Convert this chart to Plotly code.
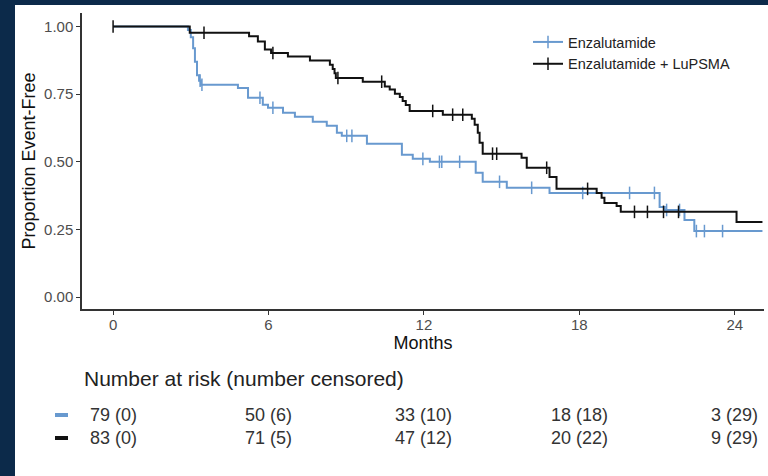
import plotly.graph_objects as go
import numpy as np

# ---- Kaplan-Meier step data (months, proportion event-free) ----
enz_time = [0, 2.89, 3.0, 3.09, 3.16, 3.24, 3.32, 3.39, 4.82, 5.21, 5.78, 5.98, 6.56, 7.02,
            7.71, 8.25, 8.64, 8.83, 9.8, 11.15, 11.57, 12.23, 14.0, 14.27, 15.2, 16.85,
            21.1, 21.3, 22.06, 22.44, 25.07]
enz_surv = [1.0, 0.987, 0.96, 0.92, 0.87, 0.82, 0.80, 0.785, 0.773, 0.737, 0.711, 0.70, 0.681,
            0.667, 0.648, 0.633, 0.607, 0.596, 0.567, 0.526, 0.511, 0.50, 0.46, 0.426, 0.404,
            0.385, 0.333, 0.322, 0.285, 0.244, 0.244]
enz_censor = [3.36, 3.43, 5.67, 6.17, 9.02, 9.22, 11.96, 12.6, 12.69, 13.38, 14.92, 16.16,
              18.13, 19.94, 20.9, 21.37, 21.87, 22.52, 22.83, 23.53]

combo_time = [0, 2.96, 5.25, 5.59, 5.86, 6.1, 6.75, 7.6, 8.37, 8.48, 8.55, 8.6, 9.64, 10.49,
              10.68, 10.88, 11.07, 11.18, 11.3, 11.45, 12.73, 13.85, 13.96, 14.08, 14.15,
              14.27, 15.77, 15.97, 16.85, 17.12, 18.67, 18.86, 18.97, 19.44, 19.6, 24.07, 25.07]
combo_surv = [1.0, 0.977, 0.964, 0.945, 0.915, 0.902, 0.889, 0.874, 0.859, 0.843, 0.827, 0.81,
              0.796, 0.778, 0.767, 0.752, 0.74, 0.725, 0.71, 0.688, 0.674, 0.659, 0.637, 0.607,
              0.57, 0.53, 0.515, 0.478, 0.444, 0.40, 0.385, 0.367, 0.348, 0.337, 0.315, 0.278,
              0.278]
combo_censor = [0, 3.51, 6.17, 8.68, 10.37, 12.34, 13.11, 13.5, 14.65, 14.81, 16.74, 18.32,
                20.13, 20.63, 21.25, 21.83]

# ---- Number at risk table ----
risk_months = [0, 6, 12, 18, 24]
enz_at_risk = [79, 50, 33, 18, 3]
enz_censored = [0, 6, 10, 18, 29]
combo_at_risk = [83, 71, 47, 20, 9]
combo_censored = [0, 5, 12, 22, 29]

arm_names = ["Enzalutamide", "Enzalutamide + LuPSMA"]
BLUE = "#6899cf"
BLACK = "#111111"
NAVY = "#0c2a4a"
FONT = "Liberation Sans, Arial, sans-serif"

W, H = 768, 476
ML, MR, MT, MB = 82, 4, 13, 167
PW, PH = W - ML - MR, H - MT - MB


def px_x(p):
    return (p - ML) / PW


def px_y(p):
    return (H - MB - p) / PH


def surv_at(times, surv, t):
    idx = np.searchsorted(np.array(times), t, side="right") - 1
    return surv[max(idx, 0)]


fig = go.Figure()

arms = [
    (arm_names[0], enz_time, enz_surv, enz_censor, BLUE),
    (arm_names[1], combo_time, combo_surv, combo_censor, BLACK),
]

for name, t, s, c, col in arms:
    tick = dict(symbol="line-ns-open", size=9, color=col, line=dict(color=col, width=1.5))
    fig.add_trace(go.Scatter(
        x=t, y=s, mode="lines", line=dict(color=col, width=2, shape="hv"),
        showlegend=False, hoverinfo="skip"))
    fig.add_trace(go.Scatter(
        x=c, y=[surv_at(t, s, v) for v in c], mode="markers", marker=tick,
        showlegend=False, hoverinfo="skip"))
    # legend key: line with a censor tick
    fig.add_trace(go.Scatter(
        x=[None], y=[None], mode="lines+markers", name=name,
        line=dict(color=col, width=2), marker=tick))

# framing bands
fig.add_shape(type="rect", xref="paper", yref="paper", x0=px_x(0), x1=px_x(15),
              y0=px_y(H), y1=px_y(0), fillcolor=NAVY, line_width=0, layer="below")
fig.add_shape(type="rect", xref="paper", yref="paper", x0=px_x(0), x1=px_x(W),
              y0=px_y(5), y1=px_y(0), fillcolor=NAVY, line_width=0, layer="below")

# risk table
fig.add_annotation(text="Number at risk (number censored)", xref="paper", yref="paper",
                   x=px_x(82), y=px_y(378), xanchor="left", yanchor="middle",
                   showarrow=False, font=dict(size=21, color="#222222", family=FONT))
rows = [(enz_at_risk, enz_censored, BLUE, 415), (combo_at_risk, combo_censored, BLACK, 438)]
for at_risk, cens, col, py in rows:
    fig.add_shape(type="line", xref="paper", yref="paper", x0=px_x(55), x1=px_x(68),
                  y0=px_y(py), y1=px_y(py), line=dict(color=col, width=4))
    for m, n, k in zip(risk_months, at_risk, cens):
        fig.add_annotation(text=f"{n} ({k})", xref="x", yref="paper", x=m, y=px_y(py),
                           xanchor="center", yanchor="middle", showarrow=False,
                           font=dict(size=18, color="#333333", family=FONT))

axis_common = dict(showline=True, linecolor="#333333", linewidth=1.5, ticks="outside",
                   ticklen=4, tickwidth=1.2, tickcolor="#333333", showgrid=False,
                   zeroline=False, tickfont=dict(size=15, color="#4d4d4d", family=FONT))

fig.update_layout(
    width=W, height=H,
    margin=dict(l=ML, r=MR, t=MT, b=MB),
    paper_bgcolor="white", plot_bgcolor="white",
    font=dict(family=FONT),
    xaxis=dict(range=[-1.2, 25.13], tickvals=risk_months, ticklabelstandoff=-3,
               title=dict(text="Months", font=dict(size=18, color="#111111"), standoff=0),
               **axis_common),
    yaxis=dict(range=[-0.044, 1.05], tickvals=[0, 0.25, 0.5, 0.75, 1.0], tickformat=".2f",
               title=dict(text="Proportion Event-Free", font=dict(size=18, color="#111111"),
                          standoff=4),
               **axis_common),
    legend=dict(x=px_x(528), y=px_y(26), xanchor="left", yanchor="top",
                bgcolor="rgba(0,0,0,0)", font=dict(size=14.5, color="#222222", family=FONT),
                tracegroupgap=3),
    showlegend=True,
)

fig.write_html("out.html")
